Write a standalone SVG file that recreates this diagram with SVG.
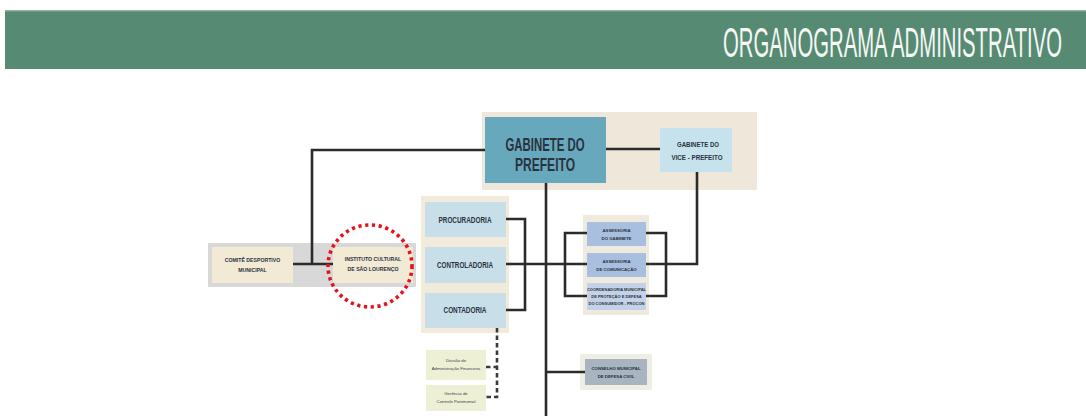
<svg xmlns="http://www.w3.org/2000/svg" width="1086" height="416" viewBox="0 0 1086 416">
<style>
.ln{stroke:#2b2b2b;stroke-width:2.6;fill:none}
.dash{stroke:#3a3a3a;stroke-width:2.6;fill:none;stroke-dasharray:4.5 3}
.t{font-family:"Liberation Sans",Arial,sans-serif;font-weight:bold;fill:#2a3240;text-anchor:middle}
.tiny{font-family:"Liberation Sans",Arial,sans-serif;fill:#3a4050;text-anchor:middle}
</style>
<rect width="1086" height="416" fill="#ffffff"/>
<g id="header">
<rect x="5" y="10" width="1081" height="59" fill="#578a73"/>
<rect x="5" y="10" width="1081" height="1.5" fill="#8fb3a2"/>
</g>
<g id="title">
<text transform="translate(1062,57) scale(0.472,1)" x="0" y="0" font-family="'Liberation Sans',Arial,sans-serif" font-size="43" fill="#f5f8f5" text-anchor="end">ORGANOGRAMA ADMINISTRATIVO</text>
</g>
<g id="backgrounds">
<rect x="482" y="112" width="275" height="78" fill="#efe8da"/>
<rect x="208" y="243" width="208" height="44" fill="#d8d8d8"/>
<rect x="421" y="196" width="88" height="137" fill="#f2ebdc"/>
<rect x="583" y="215" width="66" height="100" fill="#efeade"/>
<rect x="580" y="354" width="72" height="36" fill="#efeee6"/>
</g>
<g id="connectors">
<polyline class="ln" points="485,150 312,150 312,264"/>
<line class="ln" x1="292" y1="264" x2="333" y2="264"/>
<line class="ln" x1="606" y1="149" x2="660" y2="149"/>
<line class="ln" x1="546" y1="183" x2="546" y2="416"/>
<polyline class="ln" points="505,219 525,219 525,310 505,310"/>
<line class="ln" x1="505" y1="264" x2="587" y2="264"/>
<polyline class="ln" points="587,233 565,233 565,296 587,296"/>
<polyline class="ln" points="646,233 666,233 666,296 646,296"/>
<polyline class="ln" points="646,264 697,264 697,172"/>
<line class="ln" x1="546" y1="372" x2="585" y2="372"/>
<polyline class="dash" points="497,328 497,397 486,397"/>
<line class="dash" x1="486" y1="367" x2="497" y2="367"/>
</g>
<g id="gabinete-prefeito">
<rect x="485" y="117" width="121" height="66" fill="#68a8bc"/>
<text class="t" x="545" y="151" font-size="19" fill="#1f3a48" textLength="79" lengthAdjust="spacingAndGlyphs">GABINETE DO</text>
<text class="t" x="545" y="171" font-size="19" fill="#1f3a48" textLength="60" lengthAdjust="spacingAndGlyphs">PREFEITO</text>
</g>
<g id="gabinete-vice">
<rect x="660" y="128" width="72" height="44" fill="#c6e3ed"/>
<text class="t" x="698" y="147" font-size="7" textLength="42" lengthAdjust="spacingAndGlyphs">GABINETE DO</text>
<text class="t" x="697" y="160" font-size="7" textLength="51" lengthAdjust="spacingAndGlyphs">VICE - PREFEITO</text>
</g>
<g id="comite">
<rect x="212" y="247" width="81" height="36" fill="#f3ead6"/>
<text class="t" x="252.5" y="262" font-size="5.2">COMITÊ DESPORTIVO</text>
<text class="t" x="252.5" y="272" font-size="5.2">MUNICIPAL</text>
</g>
<g id="instituto">
<rect x="333" y="247" width="80" height="36" fill="#f3ead6"/>
<text class="t" x="373" y="261" font-size="5.2">INSTITUTO CULTURAL</text>
<text class="t" x="373" y="271" font-size="5.2">DE SÃO LOURENÇO</text>
</g>
<g id="highlight">
<ellipse cx="370" cy="266" rx="42" ry="41" fill="none" stroke="#e8101a" stroke-width="3.6" stroke-dasharray="3.2 3.6"/>
</g>
<g id="procuradoria">
<rect x="425" y="202" width="81" height="35" fill="#c8dfea"/>
<text class="t" x="465" y="222.5" font-size="9.5" textLength="53" lengthAdjust="spacingAndGlyphs">PROCURADORIA</text>
</g>
<g id="controladoria">
<rect x="425" y="247" width="81" height="36" fill="#c8dfea"/>
<text class="t" x="465" y="267.5" font-size="9.5" textLength="56" lengthAdjust="spacingAndGlyphs">CONTROLADORIA</text>
</g>
<g id="contadoria">
<rect x="425" y="293" width="81" height="35" fill="#c8dfea"/>
<text class="t" x="465" y="312.5" font-size="9.5" textLength="43" lengthAdjust="spacingAndGlyphs">CONTADORIA</text>
</g>
<g id="divisao">
<rect x="426" y="350" width="60" height="30" fill="#eef0d6"/>
<text class="tiny" x="456" y="362" font-size="4.3">Divisão de</text>
<text class="tiny" x="456" y="370" font-size="4.3">Administração Financeira</text>
</g>
<g id="gerencia">
<rect x="426" y="385" width="60" height="26" fill="#eef0d6"/>
<text class="tiny" x="456" y="395" font-size="4.3">Gerência de</text>
<text class="tiny" x="456" y="403" font-size="4.3">Controle Patrimonial</text>
</g>
<g id="assessoria-gabinete">
<rect x="587" y="222" width="59" height="24" fill="#a9bfe0"/>
<text class="t" x="616.5" y="232" font-size="4.3">ASSESSORIA</text>
<text class="t" x="616.5" y="240" font-size="4.3">DO GABINETE</text>
</g>
<g id="assessoria-comunicacao">
<rect x="587" y="253" width="59" height="24" fill="#a9bfe0"/>
<text class="t" x="616.5" y="263" font-size="4.3">ASSESSORIA</text>
<text class="t" x="616.5" y="271" font-size="4.3">DE COMUNICAÇÃO</text>
</g>
<g id="procon">
<rect x="587" y="283" width="59" height="27" fill="#c3d2e8"/>
<text class="t" x="616.5" y="291" font-size="4">COORDENADORIA MUNICIPAL</text>
<text class="t" x="616.5" y="298" font-size="4">DE PROTEÇÃO E DEFESA</text>
<text class="t" x="616.5" y="305" font-size="4">DO CONSUMIDOR - PROCON</text>
</g>
<g id="conselho">
<rect x="585" y="359" width="62" height="26" fill="#a8b4bf"/>
<text class="t" x="616" y="370" font-size="4.3">CONSELHO MUNICIPAL</text>
<text class="t" x="616" y="378" font-size="4.3">DE DEFESA CIVIL</text>
</g>
</svg>
